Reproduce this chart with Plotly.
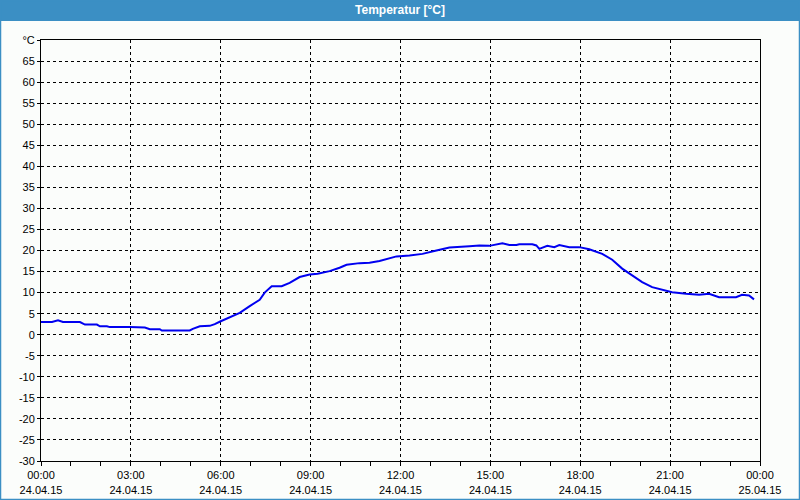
import plotly.graph_objects as go

times = ["00:00", "00:22", "00:34", "00:44", "01:18", "01:28", "01:52", "01:58", "02:12", "02:18",
         "02:58", "03:28", "03:38", "03:58", "04:02", "04:58", "05:04", "05:18", "05:38", "05:48",
         "06:00", "06:18", "06:38", "06:58", "07:18", "07:28", "07:42", "08:02", "08:18", "08:38",
         "08:58", "09:14", "09:38", "09:58", "10:12", "10:38", "10:58", "11:18", "11:32", "11:52",
         "12:18", "12:44", "13:12", "13:38", "14:18", "14:38", "14:58", "15:24", "15:38", "15:52",
         "15:58", "16:24", "16:32", "16:38", "16:54", "17:08", "17:18", "17:38", "17:58", "18:18",
         "18:44", "19:04", "19:24", "19:44", "20:04", "20:24", "20:44", "21:04", "21:32", "21:58",
         "22:18", "22:38", "23:12", "23:24", "23:38", "23:48"]
temps = [3.0, 3.0, 3.4, 3.0, 3.0, 2.4, 2.4, 2.0, 2.0, 1.8,
         1.8, 1.7, 1.3, 1.3, 1.0, 1.0, 1.4, 2.0, 2.1, 2.5,
         3.2, 4.1, 5.2, 6.8, 8.3, 10.0, 11.5, 11.5, 12.3, 13.7,
         14.3, 14.5, 15.1, 15.9, 16.6, 17.0, 17.1, 17.5, 18.0, 18.6,
         18.8, 19.2, 20.0, 20.7, 21.0, 21.2, 21.1, 21.7, 21.3, 21.3,
         21.5, 21.5, 21.2, 20.4, 21.1, 20.8, 21.3, 20.8, 20.8, 20.3,
         19.2, 17.8, 15.7, 14.1, 12.5, 11.3, 10.7, 10.1, 9.7, 9.5,
         9.7, 8.9, 8.9, 9.5, 9.3, 8.4]

x_tick_vals = ["2015-04-24 00:00", "2015-04-24 03:00", "2015-04-24 06:00", "2015-04-24 09:00",
               "2015-04-24 12:00", "2015-04-24 15:00", "2015-04-24 18:00", "2015-04-24 21:00",
               "2015-04-25 00:00"]
x_tick_text = ["00:00<br>24.04.15", "03:00<br>24.04.15", "06:00<br>24.04.15", "09:00<br>24.04.15",
               "12:00<br>24.04.15", "15:00<br>24.04.15", "18:00<br>24.04.15", "21:00<br>24.04.15",
               "00:00<br>25.04.15"]
y_tick_vals = list(range(-30, 70, 5)) + [70]
y_tick_text = [str(v) for v in range(-30, 70, 5)] + ["°C"]

title_text = "Temperatur [°C]"

xs = ["2015-04-24 " + t for t in times]

BG = "#fbfdfb"
BLUE = "#3b8fc4"

fig = go.Figure()
fig.add_trace(go.Scatter(x=xs, y=temps, mode="lines",
                         line=dict(color="#0000f0", width=2), showlegend=False))

fig.update_layout(
    width=800, height=500,
    margin=dict(l=41, r=40, t=40, b=39, autoexpand=False),
    paper_bgcolor=BG, plot_bgcolor=BG,
    font=dict(family="Liberation Sans, Arial, sans-serif", size=11, color="black"),
    title=dict(text="<b>" + title_text + "</b>", x=0.5, xanchor="center",
               y=1 - 10 / 500, yanchor="middle", yref="container",
               font=dict(color="white", size=12, family="Liberation Sans, Arial, sans-serif")),
    xaxis=dict(type="date", range=["2015-04-24 00:00", "2015-04-25 00:00"],
               tickvals=x_tick_vals, ticktext=x_tick_text, automargin=False,
               showgrid=True, gridcolor="black", gridwidth=1, griddash="3px,3px",
               showline=True, linecolor="black", linewidth=1, mirror=True,
               ticks="outside", ticklen=4, tickcolor="black",
               minor=dict(dtick=3600000, ticks="outside", ticklen=4, tickcolor="black", showgrid=False),
               zeroline=False, fixedrange=True),
    yaxis=dict(range=[-30, 70], tickvals=y_tick_vals, ticktext=y_tick_text, automargin=False,
               showgrid=True, gridcolor="black", gridwidth=1, griddash="3px,3px",
               showline=True, linecolor="black", linewidth=1, mirror=True,
               ticks="outside", ticklen=3, tickcolor="black",
               zeroline=False, fixedrange=True),
)

W, H = 719, 421
def px(x):
    return (x - 41) / W
def py(y):
    return (461 - y) / H

# title bar and outer frame
fig.add_shape(type="rect", xref="paper", yref="paper",
              x0=px(0), x1=px(800), y0=py(21), y1=py(0),
              fillcolor=BLUE, line=dict(width=0), layer="below")
fig.add_shape(type="rect", xref="paper", yref="paper",
              x0=px(0.5), x1=px(799.5), y0=py(499.5), y1=py(0.5),
              fillcolor="rgba(0,0,0,0)", line=dict(color=BLUE, width=1.5), layer="above")

fig.write_html("out.html")
